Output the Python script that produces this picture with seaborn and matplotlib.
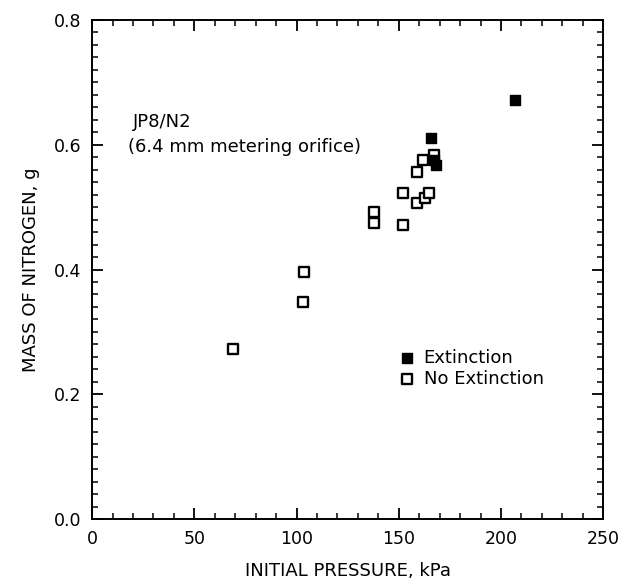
import matplotlib
matplotlib.use("Agg")
import matplotlib.pyplot as plt
import seaborn as sns
import pandas as pd
from matplotlib.ticker import MultipleLocator

sns.set_theme(style="white")
plt.rcParams['font.family'] = ['DejaVu Sans']
plt.rcParams['text.color'] = 'black'
plt.rcParams['axes.labelcolor'] = 'black'

# Extinction (filled squares)
ext_pressure = [166, 167, 168, 207]
ext_mass = [0.610, 0.576, 0.568, 0.672]

# No extinction (open squares)
noext_pressure = [69, 103, 103.5, 138, 138, 152, 152, 159, 159, 162, 163, 165, 167]
noext_mass = [0.273, 0.348, 0.396, 0.475, 0.492, 0.472, 0.523, 0.507, 0.556, 0.576, 0.515, 0.523, 0.584]

x_ticks = [0, 50, 100, 150, 200, 250]
y_ticks = [0.0, 0.2, 0.4, 0.6, 0.8]

df_ext = pd.DataFrame({"p": ext_pressure, "m": ext_mass})
df_no = pd.DataFrame({"p": noext_pressure, "m": noext_mass})

fig = plt.figure(figsize=(6.27, 5.84), dpi=100)
ax = fig.add_axes([0.147, 0.111, 0.815, 0.855])

sns.scatterplot(data=df_no, x="p", y="m", ax=ax, marker="s", s=55,
                facecolor="white", edgecolor="black", linewidth=1.7,
                label="No Extinction", zorder=3)
sns.scatterplot(data=df_ext, x="p", y="m", ax=ax, marker="s", s=55,
                color="black", edgecolor="black", linewidth=1.0,
                label="Extinction", zorder=4)

ax.set_xlim(0, 250)
ax.set_ylim(0.0, 0.8)
ax.set_xticks(x_ticks)
ax.set_yticks(y_ticks)
ax.set_xticklabels([str(v) for v in x_ticks])
ax.set_yticklabels([f"{v:.1f}" for v in y_ticks])
ax.xaxis.set_minor_locator(MultipleLocator(10))
ax.yaxis.set_minor_locator(MultipleLocator(0.02))
ax.tick_params(which="major", direction="in", length=8, width=1.3,
               top=True, right=True, bottom=True, left=True,
               labelsize=12.5, pad=8, colors="black")
ax.tick_params(which="minor", direction="in", length=4, width=1.1,
               top=True, right=True, bottom=True, left=True, colors="black")
for sp in ax.spines.values():
    sp.set_color("black")
    sp.set_linewidth(1.4)

ax.set_xlabel("INITIAL PRESSURE, kPa", fontsize=13, labelpad=10, color="black")
ax.set_ylabel("MASS OF NITROGEN, g", fontsize=13, labelpad=10, color="black")

ax.text(20, 0.637, "JP8/N2", fontsize=13, va="center", ha="left", color="black")
ax.text(17.5, 0.596, "(6.4 mm metering orifice)", fontsize=13, va="center",
        ha="left", color="black")

h, l = ax.get_legend_handles_labels()
order = [l.index("Extinction"), l.index("No Extinction")]
leg = ax.legend([h[i] for i in order], [l[i] for i in order], frameon=False,
                loc="upper left", bbox_to_anchor=(0.585, 0.355), fontsize=13,
                handletextpad=0.4, labelspacing=0.15, borderaxespad=0,
                handlelength=1.0)
for t in leg.get_texts():
    t.set_color("black")

fig.savefig("out.png", dpi=100)
